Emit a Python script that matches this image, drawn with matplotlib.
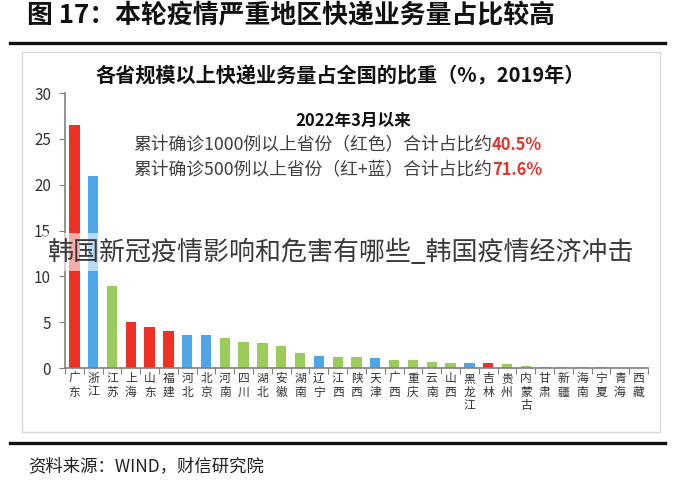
import matplotlib
matplotlib.use("Agg")
import matplotlib.pyplot as plt
from matplotlib.patches import Rectangle
from matplotlib.lines import Line2D

plt.rcParams['font.family'] = ['Noto Sans CJK SC', 'DejaVu Sans']

provinces = ["广东", "浙江", "江苏", "上海", "山东", "福建", "河北", "北京", "河南", "四川",
             "湖北", "安徽", "湖南", "辽宁", "江西", "陕西", "天津", "广西", "重庆", "云南",
             "山西", "黑龙江", "吉林", "贵州", "内蒙古", "甘肃", "新疆", "海南", "宁夏", "青海", "西藏"]
shares = [26.5, 20.9, 9.0, 5.0, 4.5, 4.0, 3.6, 3.6, 3.3, 2.8,
          2.7, 2.4, 1.6, 1.3, 1.2, 1.2, 1.1, 0.9, 0.9, 0.7,
          0.6, 0.6, 0.5, 0.4, 0.25, 0.15, 0.15, 0.1, 0.06, 0.05, 0.03]
groups = ["red", "blue", "green", "red", "red", "red", "blue", "blue", "green", "green",
          "green", "green", "green", "blue", "green", "green", "blue", "green", "green", "green",
          "green", "blue", "red", "green", "green", "green", "green", "green", "green", "green", "green"]
yticks = [0, 5, 10, 15, 20, 25, 30]

palette = {"red": "#ee3124", "blue": "#4ea6e6", "green": "#9bcb5a"}

W, H = 680, 490
fig = plt.figure(figsize=(6.8, 4.9), dpi=100)

def fx(x):
    return x / W

def fy(y):
    return 1 - y / H

# header title
fig.text(fx(27), fy(16), "图 17：本轮疫情严重地区快递业务量占比较高", fontsize=18.6,
         fontweight='bold', color='#111111', va='center', ha='left')
fig.add_artist(Line2D([fx(10), fx(665)], [fy(43), fy(43)], color='#111111', lw=2.4))
fig.add_artist(Line2D([fx(10), fx(665)], [fy(443), fy(443)], color='#111111', lw=2.4))
fig.add_artist(Rectangle((fx(22), fy(432)), fx(660) - fx(22), fy(52) - fy(432),
                         fill=False, edgecolor='#d9d9d9', lw=1.0))
fig.text(fx(28), fy(466), "资料来源：WIND，财信研究院", fontsize=12.5, style='italic',
         color='#222222', va='center', ha='left')

ax = fig.add_axes([fx(65), fy(368), fx(648) - fx(65), fy(93) - fy(368)])
x = list(range(len(provinces)))
ax.bar(x, shares, width=0.55, color=[palette[g] for g in groups], zorder=2)
ax.set_xlim(-0.5, len(provinces) - 0.5)
ax.set_ylim(0, 30)
ax.set_yticks(yticks)
ax.set_yticklabels([str(v) for v in yticks], fontsize=11, color='#333333')
ax.set_xticks([i + 0.5 for i in range(-1, len(provinces))], minor=False)
ax.set_xticklabels([])
ax.set_xticks(x, minor=True)
ax.set_xticklabels(["\n".join(p) for p in provinces], minor=True, fontsize=8.5,
                   color='#333333', linespacing=1.05, va='top')
ax.tick_params(axis='x', which='minor', length=0, pad=3)
ax.tick_params(axis='x', which='major', length=4, color='#808080', direction='out')
ax.tick_params(axis='y', length=4, color='#808080', direction='out', pad=6)
for s in ['top', 'right']:
    ax.spines[s].set_visible(False)
for s in ['left', 'bottom']:
    ax.spines[s].set_color('#808080')
    ax.spines[s].set_linewidth(1.2)

# chart title
fig.text(fx(340), fy(76), "各省规模以上快递业务量占全国的比重（%，2019年）", fontsize=14.5,
         fontweight='bold', color='#111111', ha='center', va='center')

# annotation
fig.text(fx(353), fy(121), "2022年3月以来", fontsize=12, fontweight='bold', color='#111111',
         ha='center', va='center')
renderer = fig.canvas.get_renderer()
for yy, body, pct in [(145, "累计确诊1000例以上省份（红色）合计占比约", "40.5%"),
                      (170, "累计确诊500例以上省份（红+蓝）合计占比约", "71.6%")]:
    t = fig.text(fx(133), fy(yy), body, fontsize=12.8, color='#404040', ha='left', va='center')
    bb = t.get_window_extent(renderer=renderer)
    fig.text(bb.x1 / fig.bbox.width, fy(yy), pct, fontsize=11.8, fontweight='bold',
             color='#e8312a', ha='left', va='center')

# watermark overlay
fig.text(fx(341), fy(252), "韩国新冠疫情影响和危害有哪些_韩国疫情经济冲击", fontsize=18.7,
         color='#3a3a3a', ha='center', va='center', fontweight='light',
         bbox=dict(boxstyle='square,pad=0.2', facecolor='white', edgecolor='none', alpha=0.6),
         zorder=10)

fig.savefig("out.png", dpi=100)
